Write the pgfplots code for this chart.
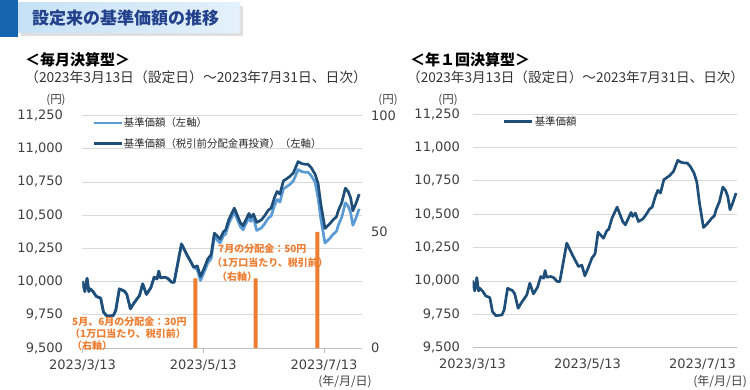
\documentclass[border=0pt]{standalone}
\usepackage{fontspec}
\usepackage{pgfplots}
\usepackage{pgfplotstable}
\pgfplotsset{compat=1.18}
\setmainfont{DejaVu Sans}
\newfontfamily\jp{Noto Sans CJK JP}
\definecolor{navy}{HTML}{1F4E79}
\definecolor{lblue}{HTML}{5B9BD5}
\definecolor{orng}{HTML}{ED7D31}
\definecolor{gridc}{HTML}{D9D9D9}
\definecolor{axc}{HTML}{BFBFBF}
\definecolor{tickc}{HTML}{404040}
\definecolor{titlec}{HTML}{22408C}
\definecolor{sqc}{HTML}{1565B0}
\definecolor{boxa}{HTML}{C6E1F5}
\definecolor{boxb}{HTML}{E4F1FB}

\pgfplotstableread{
day val
0 10003
1.2 9925
2.3 10025
3.2 9925
3.9 9945
5.3 9925
7 9888
9.2 9875
10.6 9770
12.4 9740
15.6 9745
16.8 9783
18.6 9945
21.2 9928
22.4 9903
24.2 9795
26 9838
28.8 9895
30.4 9983
32.3 9903
34.5 9953
36.2 10033
37.7 10020
38.5 10078
39.4 10028
41.5 10033
43 10025
45 9995
46.3 9995
50 10283
53 10195
56.2 10108
58 10118
59.6 10038
61.3 10095
63.3 10170
65 10203
66.6 10365
69.5 10320
71.2 10375
72.3 10388
74 10470
76.7 10553
79.7 10445
81.1 10420
84.1 10513
85 10483
86.4 10508
88 10445
90.3 10463
92 10495
93.9 10538
95.3 10553
97 10633
98.3 10678
99.7 10658
101.5 10758
104.5 10788
106.6 10820
108.9 10903
110.7 10888
112.4 10883
113.9 10883
115.5 10858
117.5 10808
119 10740
120.4 10583
122.5 10400
124.8 10433
126.6 10465
128.3 10488
129.2 10533
131 10595
132.8 10703
134.2 10678
135.4 10633
136.6 10533
138 10583
139.8 10658
}\reinv

\pgfplotstableread{
day val
0 10003
1.2 9925
2.3 10025
3.2 9925
3.9 9945
5.3 9925
7 9888
9.2 9875
10.6 9770
12.4 9740
15.6 9745
16.8 9783
18.6 9945
21.2 9928
22.4 9903
24.2 9795
26 9838
28.8 9895
30.4 9983
32.3 9903
34.5 9953
36.2 10033
37.7 10020
38.5 10078
39.4 10028
41.5 10033
43 10025
45 9995
46.3 9995
50 10283
53 10195
56.2 10108
58 10088
59.6 10008
61.3 10065
63.3 10140
65 10173
66.6 10335
69.5 10290
71.2 10345
72.3 10358
74 10440
76.7 10523
79.7 10415
81.1 10390
84.1 10483
85 10453
86.4 10478
88 10385
90.3 10403
92 10435
93.9 10478
95.3 10493
97 10573
98.3 10618
99.7 10598
101.5 10698
104.5 10728
106.6 10760
108.9 10843
110.7 10828
112.4 10823
113.9 10823
115.5 10798
117.5 10748
119 10630
120.4 10473
122.5 10290
124.8 10323
126.6 10355
128.3 10378
129.2 10423
131 10485
132.8 10593
134.2 10568
135.4 10523
136.6 10423
138 10473
139.8 10548
}\nav

\pgfplotstableread{
day amt
57 30
87.5 30
118.7 50
}\dist

\pgfplotsset{
  navstyle/.style={
    scale only axis,
    anchor=south west,
    ymin=9500, ymax=11250,
    ytick={9500,9750,10000,10250,10500,10750,11000,11250},
    scaled y ticks=false,
    /pgf/number format/assume math mode=true,
    /pgf/number format/1000 sep={,},
    axis x line*=bottom, axis y line*=left,
    y axis line style={draw=none},
    x axis line style={draw=axc, line width=0.8pt, -},
    ymajorgrids, grid style={draw=gridc, line width=0.8pt},
    ytick style={draw=none},
    xtick={0,61,122},
    xticklabels={2023/3/13,2023/5/13,2023/7/13},
    tick label style={font=\fontsize{13}{13}\selectfont, text=tickc},
    legend cell align=left,
    legend image code/.code={\draw[#1, line width=2.7pt] (0pt,0pt) -- (28pt,0pt);},
    legend style={draw=none, fill=none, inner sep=0pt, anchor=north west,
      font=\jp\fontsize{10.4}{12}\selectfont, text=black!85, row sep=8pt,
      nodes={inner sep=1pt}},
  }
}

\begin{document}
\begin{tikzpicture}[x=1pt,y=1pt]
\useasboundingbox (0,0) rectangle (750,-390);
% header
\fill[gray!25] (21,-6) rectangle (243,-36);
\shade[left color=boxa, right color=boxb] (18,-3) rectangle (240,-33);
\fill[sqc] (0,0) rectangle (18,-37);
\node[anchor=west, inner sep=0pt, text=titlec, font=\jp\bfseries\fontsize{17}{17}\selectfont] at (32,-18) {設定来の基準価額の推移};

% left headings
\node[anchor=west, inner sep=0pt, font=\jp\bfseries\fontsize{15}{15}\selectfont] at (25,-60) {＜毎月決算型＞};
\node[anchor=west, inner sep=0pt, text=black!80, font=\jp\fontsize{13.8}{13.8}\selectfont] at (25,-77) {（2023年3月13日（設定日）～2023年7月31日、日次）};
\node[inner sep=0pt, text=tickc, font=\jp\fontsize{11.5}{11.5}\selectfont] at (56,-100) {(円)};
\node[inner sep=0pt, text=tickc, font=\jp\fontsize{11.5}{11.5}\selectfont] at (388,-100) {(円)};
\node[anchor=east, inner sep=0pt, text=tickc, font=\jp\fontsize{12}{12}\selectfont] at (372,-382) {(年/月/日)};

% right headings
\node[anchor=west, inner sep=0pt, font=\jp\bfseries\fontsize{15}{15}\selectfont] at (410,-60) {＜年１回決算型＞};
\node[anchor=west, inner sep=0pt, text=black!80, font=\jp\fontsize{13.6}{13.6}\selectfont] at (407,-77) {（2023年3月13日（設定日）～2023年7月31日、日次）};
\node[inner sep=0pt, text=tickc, font=\jp\fontsize{11.5}{11.5}\selectfont] at (448,-100) {(円)};
\node[anchor=east, inner sep=0pt, text=tickc, font=\jp\fontsize{12}{12}\selectfont] at (747,-382) {(年/月/日)};

% left chart, left axis
\begin{axis}[navstyle,
  at={(82.5pt,-348pt)}, width=279.5pt, height=232.5pt,
  xmin=0, xmax=141.2,
  xtick style={draw=axc, line width=0.8pt},
  tick align=outside, major tick length=5pt,
  yticklabel style={xshift=-11pt},
  xticklabel style={yshift=-3pt},
  legend style={at={(0.034,0.995)}},
]
\addplot[lblue, line width=2.7pt, line join=round] table[x=day,y=val]{\nav};
\addlegendentry{基準価額（左軸）}
\addplot[navy, line width=2.7pt, line join=round] table[x=day,y=val]{\reinv};
\addlegendentry{基準価額（税引前分配金再投資）（左軸）}
\end{axis}

% left chart, right axis (distributions)
\begin{axis}[scale only axis, anchor=south west,
  at={(82.5pt,-348pt)}, width=279.5pt, height=232.5pt,
  xmin=0, xmax=141.2, ymin=0, ymax=100,
  axis x line=none, axis y line*=right,
  y axis line style={draw=none}, ytick style={draw=none},
  ytick={0,50,100},
  /pgf/number format/assume math mode=true,
  tick label style={font=\fontsize{13}{13}\selectfont, text=tickc},
  yticklabel style={xshift=5.5pt},
  ybar, bar width=4pt,
]
\addplot[fill=orng, draw=none] table[x=day,y=amt]{\dist};
\end{axis}

% annotations
\node[anchor=west, inner sep=0pt, text=orng, font=\jp\bfseries\fontsize{10}{10}\selectfont] at (72,-322) {5月、6月の分配金：30円};
\node[anchor=west, inner sep=0pt, text=orng, font=\jp\bfseries\fontsize{10}{10}\selectfont] at (70,-334) {（1万口当たり、税引前）};
\node[anchor=west, inner sep=0pt, text=orng, font=\jp\bfseries\fontsize{10}{10}\selectfont] at (72,-346) {（右軸）};
\node[anchor=west, inner sep=0pt, text=orng, font=\jp\bfseries\fontsize{10}{10}\selectfont] at (218,-249) {7月の分配金：50円};
\node[anchor=west, inner sep=0pt, text=orng, font=\jp\bfseries\fontsize{10}{10}\selectfont] at (212,-263) {（1万口当たり、税引前）};
\node[anchor=west, inner sep=0pt, text=orng, font=\jp\bfseries\fontsize{10}{10}\selectfont] at (217,-277) {（右軸）};

% right chart
\begin{axis}[navstyle,
  at={(472.5pt,-347.7pt)}, width=264.5pt, height=233.7pt,
  xmin=0, xmax=140.3,
  xtick style={draw=none}, major tick length=0pt,
  yticklabel style={xshift=-9pt},
  xticklabel style={yshift=-8pt},
  legend style={at={(0.115,0.995)}},
]
\addplot[navy, line width=2.7pt, line join=round] table[x=day,y=val]{\reinv};
\addlegendentry{基準価額}
\end{axis}
\end{tikzpicture}
\end{document}
